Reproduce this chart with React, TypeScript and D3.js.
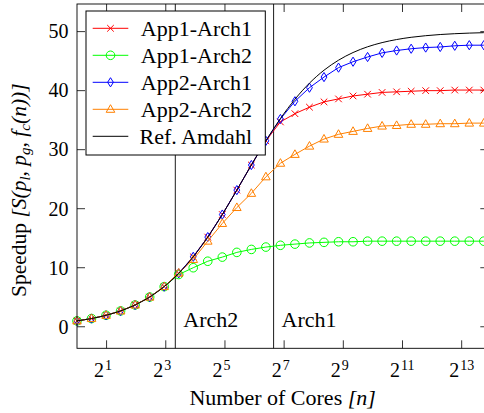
import React from "react";
import * as d3 from "d3";

// number of cores (log-spaced samples)
const cores = [1, 1.405, 1.975, 2.776, 3.901, 5.484, 7.706, 10.83, 15.22, 21.39, 30.07, 42.26, 59.39, 83.45, 117.3, 164.8, 231.6, 325.6, 457.6, 643.1, 903.8, 1270, 1785, 2509, 3526, 4955, 6965, 9788, 13757];

const app1Arch1 = [1.0, 1.39, 1.94, 2.68, 3.69, 5.03, 6.8, 9.05, 11.85, 15.19, 19.01, 23.15, 27.4, 31.5, 34.7, 36.1, 37.2, 38.1, 38.6, 39.1, 39.4, 39.7, 39.8, 39.9, 40.0, 40.0, 40.1, 40.1, 40.1];
const app1Arch2 = [1.0, 1.39, 1.94, 2.68, 3.69, 5.03, 6.8, 8.85, 10.0, 11.1, 11.8, 12.6, 13.1, 13.5, 13.8, 14.0, 14.2, 14.3, 14.4, 14.4, 14.5, 14.5, 14.5, 14.5, 14.5, 14.5, 14.5, 14.5, 14.5];
const app2Arch1 = [1.0, 1.39, 1.94, 2.68, 3.69, 5.03, 6.8, 9.05, 11.85, 15.19, 19.01, 23.15, 27.4, 31.5, 35.2, 38.2, 40.5, 42.3, 43.9, 44.9, 45.7, 46.4, 46.8, 47.1, 47.3, 47.4, 47.6, 47.7, 47.7];
const app2Arch2 = [1.0, 1.39, 1.94, 2.68, 3.69, 5.03, 6.8, 9.1, 11.4, 14.5, 17.5, 20.2, 22.6, 25.4, 27.7, 29.2, 30.6, 31.8, 32.6, 33.1, 33.6, 34.0, 34.1, 34.3, 34.3, 34.4, 34.4, 34.5, 34.5];
const refAmdahl = [1.0, 1.39, 1.94, 2.68, 3.69, 5.03, 6.8, 9.05, 11.85, 15.19, 19.01, 23.15, 27.4, 31.5, 35.27, 38.54, 41.27, 43.46, 45.16, 46.46, 47.43, 48.14, 48.66, 49.04, 49.31, 49.51, 49.65, 49.75, 49.82];

const xTicks = [2, 8, 32, 128, 512, 2048, 8192];
const yTicks = [0, 10, 20, 30, 40, 50];
const archCores = [10, 100];
const archNames = ["Arch2", "Arch1"];

const series = [
  { name: "App1-Arch1", values: app1Arch1, color: "#ff0000", mark: "x" },
  { name: "App1-Arch2", values: app1Arch2, color: "#00ff00", mark: "o" },
  { name: "App2-Arch1", values: app2Arch1, color: "#0000ff", mark: "diamond" },
  { name: "App2-Arch2", values: app2Arch2, color: "#ff8000", mark: "triangle" },
  { name: "Ref. Amdahl", values: refAmdahl, color: "#000000", mark: "none" },
];

const W = 484, H = 413;
const font = "Liberation Serif, serif";

const Mark = ({ type, x, y, color }: { type: string; x: number; y: number; color: string }) => {
  if (type === "x") {
    const s = 3.3;
    return (
      <path d={`M${x - s},${y - s}L${x + s},${y + s}M${x - s},${y + s}L${x + s},${y - s}`} stroke={color} strokeWidth={1} fill="none" />
    );
  }
  if (type === "o") return <circle cx={x} cy={y} r={4.3} stroke={color} strokeWidth={1} fill="none" />;
  if (type === "diamond")
    return <path d={`M${x},${y - 4.6}L${x + 2.9},${y}L${x},${y + 4.6}L${x - 2.9},${y}Z`} stroke={color} strokeWidth={1} fill="none" />;
  if (type === "triangle")
    return <path d={`M${x},${y - 4.6}L${x + 4.3},${y + 3}L${x - 4.3},${y + 3}Z`} stroke={color} strokeWidth={1} fill="none" />;
  return null;
};

export default function App() {
  const x = d3.scaleLog().base(2).domain([1, 15280]).range([77, 488.3]);
  const y = d3.scaleLinear().domain([-3.65, 54.68]).range([348.3, 4]);
  const [x0, x1] = x.range();
  const [yb, yt] = y.range();

  const straight = d3.line<number>().x((_, i) => x(cores[i])).y((d) => y(d));
  const smooth = d3.line<number>().x((_, i) => x(cores[i])).y((d) => y(d)).curve(d3.curveMonotoneX);

  const tickLen = 8;
  const legendX = 86, legendY = 11, legendW = 179.3, legendH = 144;

  return (
    <div style={{ position: "absolute", left: 0, top: 0, width: W, height: H, overflow: "hidden", background: "#fff" }}>
      <svg width={W} height={H} style={{ display: "block", fontFamily: font }}>
        {/* ticks */}
        {xTicks.map((t) => (
          <g key={"xt" + t} stroke="#000" strokeWidth={0.8}>
            <line x1={x(t)} x2={x(t)} y1={yb} y2={yb - tickLen} />
            <line x1={x(t)} x2={x(t)} y1={yt} y2={yt + tickLen} />
          </g>
        ))}
        {yTicks.map((t) => (
          <g key={"yt" + t} stroke="#000" strokeWidth={0.8}>
            <line x1={x0} x2={x0 + tickLen} y1={y(t)} y2={y(t)} />
            <line x1={x1} x2={x1 - tickLen} y1={y(t)} y2={y(t)} />
          </g>
        ))}

        {/* architecture limits */}
        {archCores.map((c, i) => (
          <g key={"arch" + c}>
            <line x1={x(c)} x2={x(c)} y1={yt} y2={yb} stroke="#000" strokeWidth={0.9} />
            <text x={x(c) + 8} y={327} fontSize={22} fill="#000">{archNames[i]}</text>
          </g>
        ))}

        {/* series */}
        {series.map((s) =>
          s.mark === "none" ? (
            <path key={s.name} d={smooth(s.values) || ""} fill="none" stroke={s.color} strokeWidth={1} />
          ) : (
            <g key={s.name}>
              <path d={straight(s.values) || ""} fill="none" stroke={s.color} strokeWidth={1} />
              {s.values.map((v, i) => (
                <Mark key={i} type={s.mark} x={x(cores[i])} y={y(v)} color={s.color} />
              ))}
            </g>
          )
        )}

        {/* frame */}
        <rect x={x0} y={yt} width={x1 - x0} height={yb - yt} fill="none" stroke="#000" strokeWidth={0.9} />

        {/* tick labels */}
        {xTicks.map((t) => (
          <text key={"xl" + t} x={x(t) - 2.5} y={377} fontSize={20} fill="#000" textAnchor="end">
            2
            <tspan x={x(t) - 1.5} dy={-7} fontSize={14} textAnchor="start">{Math.round(Math.log2(t))}</tspan>
          </text>
        ))}
        {yTicks.map((t) => (
          <text key={"yl" + t} x={68.5} y={y(t)} dy="0.34em" fontSize={20} fill="#000" textAnchor="end">{t}</text>
        ))}

        {/* axis labels */}
        <text x={(x0 + x1) / 2} y={405} fontSize={22} fill="#000" textAnchor="middle">
          Number of Cores <tspan fontStyle="italic">[n]</tspan>
        </text>
        <text transform="translate(26,297) rotate(-90)" fontSize={21.5} fill="#000" textAnchor="start">
          Speedup <tspan fontStyle="italic">[S(p</tspan>
          <tspan fontStyle="italic" fontSize={15} dy={4}>l</tspan>
          <tspan fontStyle="italic" dy={-4}>, p</tspan>
          <tspan fontStyle="italic" fontSize={15} dy={4}>g</tspan>
          <tspan fontStyle="italic" dy={-4}>, f</tspan>
          <tspan fontStyle="italic" fontSize={15} dy={4}>c</tspan>
          <tspan fontStyle="italic" dy={-4}>(n))]</tspan>
        </text>

        {/* legend */}
        <rect x={legendX} y={legendY} width={legendW} height={legendH} fill="#fff" stroke="#000" strokeWidth={1} />
        {series.map((s, i) => {
          const ry = 28.3 + i * 27;
          return (
            <g key={"lg" + s.name}>
              <line x1={92.7} x2={128.3} y1={ry} y2={ry} stroke={s.color} strokeWidth={1} />
              <Mark type={s.mark} x={110.5} y={ry} color={s.color} />
              <text x={252} y={ry} dy="0.34em" fontSize={22} fill="#000" textAnchor="end">{s.name}</text>
            </g>
          );
        })}
      </svg>
    </div>
  );
}
